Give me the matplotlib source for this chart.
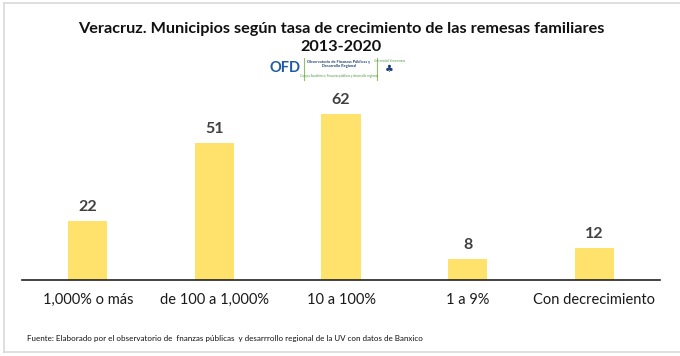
import matplotlib
matplotlib.use("Agg")
import matplotlib.pyplot as plt
from matplotlib.lines import Line2D

categories = ["1,000% o más", "de 100 a 1,000%", "10 a 100%", "1 a 9%", "Con decrecimiento"]
values = [22, 51, 62, 8, 12]
title = "Veracruz. Municipios según tasa de crecimiento de las remesas familiares\n2013-2020"
source = "Fuente: Elaborado por el observatorio de  fnanzas públicas  y desarrrollo regional de la UV con datos de Banxico"

plt.rcParams['font.family'] = ['Lato', 'DejaVu Sans']

W, H = 680, 356
fig = plt.figure(figsize=(W / 100, H / 100), dpi=100)
fig.patch.set_facecolor("white")

# light frame (left, top, bottom)
for (x0, y0, x1, y1) in [(4, 3, 4, 352), (4, 3, 680, 3), (4, 352, 680, 352)]:
    fig.add_artist(Line2D([x0 / W, x1 / W], [1 - y0 / H, 1 - y1 / H],
                          transform=fig.transFigure, color="#d9d9d9", lw=1.2))

# axes: bottom at y=280, top at y=100
ax_left, ax_right = 22, 660
ax_bottom, ax_top = 280, 100
ax = fig.add_axes([ax_left / W, 1 - ax_bottom / H, (ax_right - ax_left) / W, (ax_bottom - ax_top) / H])
x = list(range(len(categories)))
ax.bar(x, values, width=0.31, color="#FFE26B", zorder=2)
ax.set_xlim(-0.52, 4.52)
ax.set_ylim(0, 180 / 2.68)
for s in ["top", "right", "left"]:
    ax.spines[s].set_visible(False)
ax.spines["bottom"].set_color("#222222")
ax.spines["bottom"].set_linewidth(1.2)
ax.set_yticks([])
ax.set_xticks(x)
ax.set_xticklabels(categories, fontsize=10.5, color="#1a1a1a")
ax.tick_params(axis="x", length=0, pad=9)
for xi, v in zip(x, values):
    ax.annotate(str(v), (xi, v), xytext=(0, 5), textcoords="offset points",
                ha="center", va="bottom", fontsize=11.5, fontweight="bold", color="#404040")

# title
fig.text(341 / W, 1 - 38 / H, title, ha="center", va="center", fontsize=11.7,
         fontweight="bold", color="#111111", linespacing=1.4)

# logo (simplified, as text)
fig.text(270 / W, 1 - 68 / H, "OFD", ha="left", va="center", fontsize=10.5,
         fontweight="bold", color="#1f5aa6")
fig.add_artist(Line2D([304 / W, 304 / W], [1 - 58 / H, 1 - 80 / H],
                      transform=fig.transFigure, color="#8fc06c", lw=0.8))
fig.text(339 / W, 1 - 64 / H, "Observatorio de Finanzas Públicas y\nDesarrollo Regional",
         ha="center", va="center", fontsize=2.8, color="#1f3f7a", linespacing=1.1, fontweight="bold")
fig.text(339 / W, 1 - 76 / H, "Cuerpo Académico: Finanzas públicas y desarrollo regional",
         ha="center", va="center", fontsize=2.2, color="#4a9a3a")
fig.add_artist(Line2D([377 / W, 377 / W], [1 - 58 / H, 1 - 80 / H],
                      transform=fig.transFigure, color="#8fc06c", lw=0.8))
fig.text(389 / W, 1 - 61 / H, "Universidad Veracruzana", ha="center", va="center",
         fontsize=2.0, color="#4a9a3a")
fig.text(389 / W, 1 - 69 / H, "♣", ha="center", va="center", fontsize=7, color="#1f3f7a",
         family=["DejaVu Sans"])

# source
fig.text(27 / W, 1 - 339 / H, source, ha="left", va="center", fontsize=5.8, color="#111111")

fig.savefig("out.png", dpi=100, facecolor="white")
